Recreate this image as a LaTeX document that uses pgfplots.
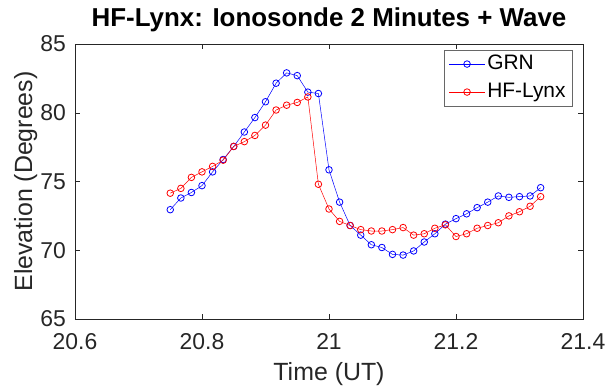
\documentclass[border=0pt]{standalone}
\usepackage{pgfplots}
\pgfplotsset{compat=1.18}
\usepackage{pgfplotstable}
\usepackage{fontspec}
\setmainfont{Liberation Sans}
\definecolor{axgray}{rgb}{0.15,0.15,0.15}
\pgfplotstableread{
x grn lynx
20.7500 72.95 74.15
20.7667 73.80 74.50
20.7833 74.20 75.30
20.8000 74.70 75.70
20.8167 75.70 76.10
20.8333 76.60 76.55
20.8500 77.55 77.55
20.8667 78.60 77.90
20.8833 79.65 78.35
20.9000 80.80 79.10
20.9167 82.15 80.20
20.9333 82.90 80.55
20.9500 82.70 80.75
20.9667 81.50 81.15
20.9833 81.40 74.80
21.0000 75.85 73.00
21.0167 73.50 72.10
21.0333 71.80 71.80
21.0500 71.10 71.50
21.0667 70.40 71.40
21.0833 70.20 71.40
21.1000 69.70 71.50
21.1167 69.65 71.65
21.1333 69.95 71.10
21.1500 70.60 71.20
21.1667 71.20 71.60
21.1833 71.90 71.85
21.2000 72.30 71.00
21.2167 72.65 71.20
21.2333 73.10 71.60
21.2500 73.50 71.80
21.2667 73.95 72.00
21.2833 73.85 72.50
21.3000 73.90 72.80
21.3167 73.95 73.20
21.3333 74.55 73.90
}\datatable
\begin{document}
\begin{tikzpicture}
\begin{axis}[
  at={(0,0)}, anchor=south west,
  scale only axis, width=508bp, height=275bp,
  xmin=20.6, xmax=21.4, ymin=65, ymax=85,
  xtick={20.6,20.8,21,21.2,21.4},
  ytick={65,70,75,80,85},
  xticklabels={20.6,20.8,21,21.2,21.4},
  tick align=inside,
  major tick length=5bp,
  axis line style={axgray, line width=0.5bp},
  tick style={axgray, line width=0.5bp},
  ticklabel style={font=\fontsize{23}{26}\selectfont, text=axgray, inner sep=1bp},
  xticklabel style={yshift=-13bp},
  yticklabel style={xshift=-8bp},
  /pgf/number format/assume math mode=true,
  xlabel={Time (UT)},
  ylabel={Elevation (Degrees)},
  label style={font=\fontsize{25}{28}\selectfont, text=axgray},
  xlabel style={at={(axis description cs:0.5,0)}, anchor=base, yshift=-61bp},
  ylabel style={at={(axis description cs:-0.0846,0.5)}, anchor=base},
  title={HF-Lynx: Ionosonde 2 Minutes + Wave},
  title style={font=\bfseries\fontsize{26}{30}\selectfont, at={(axis description cs:0.5,1)}, anchor=base, yshift=12bp},
  legend style={at={(0.980,0.978)}, anchor=north east, draw=axgray!70, line width=0.5bp,
    font=\fontsize{21}{24}\selectfont, inner xsep=5bp, inner ysep=2bp, row sep=4.5bp,
    nodes={inner sep=2bp, text height=15bp, text depth=4.5bp}},
  legend cell align=left,
  legend image code/.code={\draw[#1] (0bp,0bp) -- (36bp,0bp); \draw[#1, mark repeat=1] plot coordinates {(18bp,0bp)};},
]
\addplot[blue, line width=0.5bp, mark=o, mark size=3.3bp, mark options={line width=0.8bp}] table[x=x,y=grn] {\datatable};
\addlegendentry{GRN}
\addplot[red, line width=0.5bp, mark=o, mark size=3.3bp, mark options={line width=0.8bp}] table[x=x,y=lynx] {\datatable};
\addlegendentry{HF-Lynx}
\end{axis}
\path[use as bounding box] (-75bp,-66bp) rectangle (534bp,319bp);
\end{tikzpicture}
\end{document}
